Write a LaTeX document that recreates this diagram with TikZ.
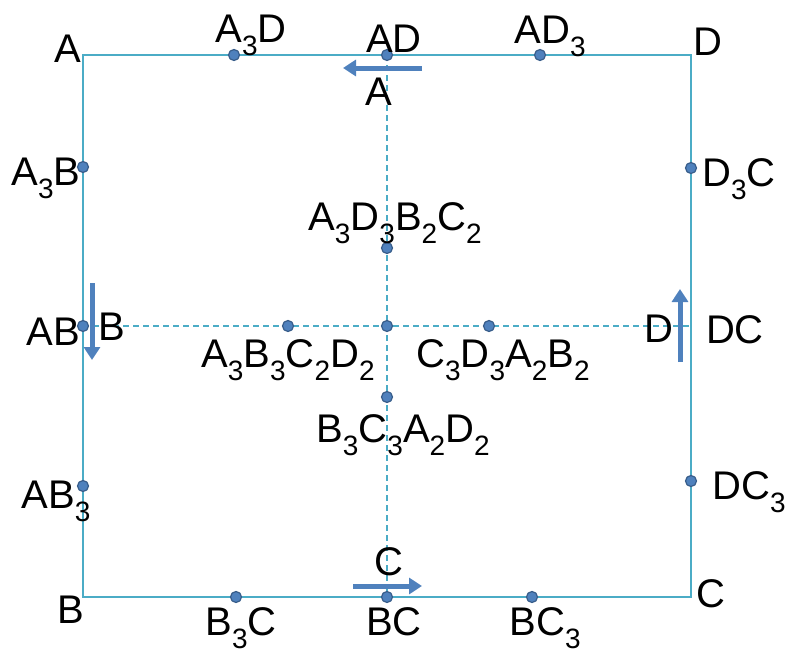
\documentclass[tikz,border=0pt]{standalone}
\usepackage{fontspec}
\setmainfont{Liberation Sans}
\usetikzlibrary{arrows.meta}
\definecolor{edgeblue}{RGB}{75,172,198}
\definecolor{dotfill}{RGB}{79,129,189}
\definecolor{dotline}{RGB}{56,93,138}
\newcommand{\lo}[1]{\raisebox{-13pt}{\fontsize{28}{30}\selectfont #1}}
\tikzset{
  pt/.style = {circle, fill=dotfill, draw=dotline, line width=1.2pt, inner sep=0pt, minimum size=11pt},
  lab/.style = {anchor=base, inner sep=0pt, font=\fontsize{40}{44}\selectfont},
  side/.style = {edgeblue, line width=2pt},
  cross/.style = {edgeblue, line width=1.3pt, dash pattern=on 6pt off 4pt},
  turnarrow/.style = {-{Triangle[length=13pt,width=16pt]}, line width=5pt, dotfill}
}

\begin{document}
\begin{tikzpicture}[x=1pt, y=-1pt]
\useasboundingbox (0,0) rectangle (785,653);
\coordinate (A) at (83,55);
\coordinate (D) at (691,55);
\coordinate (B) at (83,597);
\coordinate (C) at (691,597);
\coordinate (A3D) at (234,55);
\coordinate (AD) at (387,55);
\coordinate (AD3) at (540,55);
\coordinate (A3B) at (83,167);
\coordinate (AB) at (83,326);
\coordinate (AB3) at (83,486);
\coordinate (D3C) at (691,168);
\coordinate (DC) at (691,326);
\coordinate (DC3) at (691,481);
\coordinate (B3C) at (236,597);
\coordinate (BC) at (387,597);
\coordinate (BC3) at (532,597);
\coordinate (O) at (387,326);
\coordinate (top) at (387,248);
\coordinate (bot) at (387,397);
\coordinate (lft) at (288,326);
\coordinate (rgt) at (489,326);

\draw [cross] (AD) -- (BC);
\draw [cross] (AB) -- (DC);
\draw [side] (A) -- (D) -- (C) -- (B) -- cycle;
\foreach \p in {A3D,AD,AD3,A3B,AB,AB3,D3C,DC3,B3C,BC,BC3,O,top,bot,lft,rgt}
  \node [pt] (dot\p) at (\p) {};

\coordinate (a1) at (422,68);  \coordinate (a2) at (343,68);
\coordinate (b1) at (92,283);  \coordinate (b2) at (92,360);
\coordinate (c1) at (353,586); \coordinate (c2) at (422,586);
\coordinate (d1) at (680,362); \coordinate (d2) at (680,289);
\draw [turnarrow] (a1) -- (a2);
\draw [turnarrow] (b1) -- (b2);
\draw [turnarrow] (c1) -- (c2);
\draw [turnarrow] (d1) -- (d2);

\node [lab] (lA) at (68,62) {A};
\node [lab] (lD) at (708,55) {D};
\node [lab] (lB) at (71,623) {B};
\node [lab] (lC) at (711,607) {C};
\node [lab] (lA3D) at (251,42) {A\lo{3}D};
\node [lab] (lAD) at (394,52) {AD};
\node [lab] (lAD3) at (550,43) {AD\lo{3}};
\node [lab] (lA3B) at (46,185) {A\lo{3}B};
\node [lab] (lAB) at (53,345) {AB};
\node [lab] (lAB3) at (56,508) {AB\lo{3}};
\node [lab] (lD3C) at (739,186) {D\lo{3}C};
\node [lab] (lDC) at (735,343) {DC};
\node [lab] (lDC3) at (749,499) {DC\lo{3}};
\node [lab] (lB3C) at (241,635) {B\lo{3}C};
\node [lab] (lBC) at (394,635) {BC};
\node [lab] (lBC3) at (545,635) {BC\lo{3}};
\node [lab] (lAarr) at (379,105) {A};
\node [lab] (lBarr) at (112,340) {B};
\node [lab] (lCarr) at (389,575) {C};
\node [lab] (lDarr) at (659,342) {D};
\node [lab] (lTop) at (395,230) {A\lo{3}D\lo{3}B\lo{2}C\lo{2}};
\node [lab] (lLft) at (288,367) {A\lo{3}B\lo{3}C\lo{2}D\lo{2}};
\node [lab] (lRgt) at (503,367) {C\lo{3}D\lo{3}A\lo{2}B\lo{2}};
\node [lab] (lBot) at (403,442) {B\lo{3}C\lo{3}A\lo{2}D\lo{2}};
\end{tikzpicture}
\end{document}
